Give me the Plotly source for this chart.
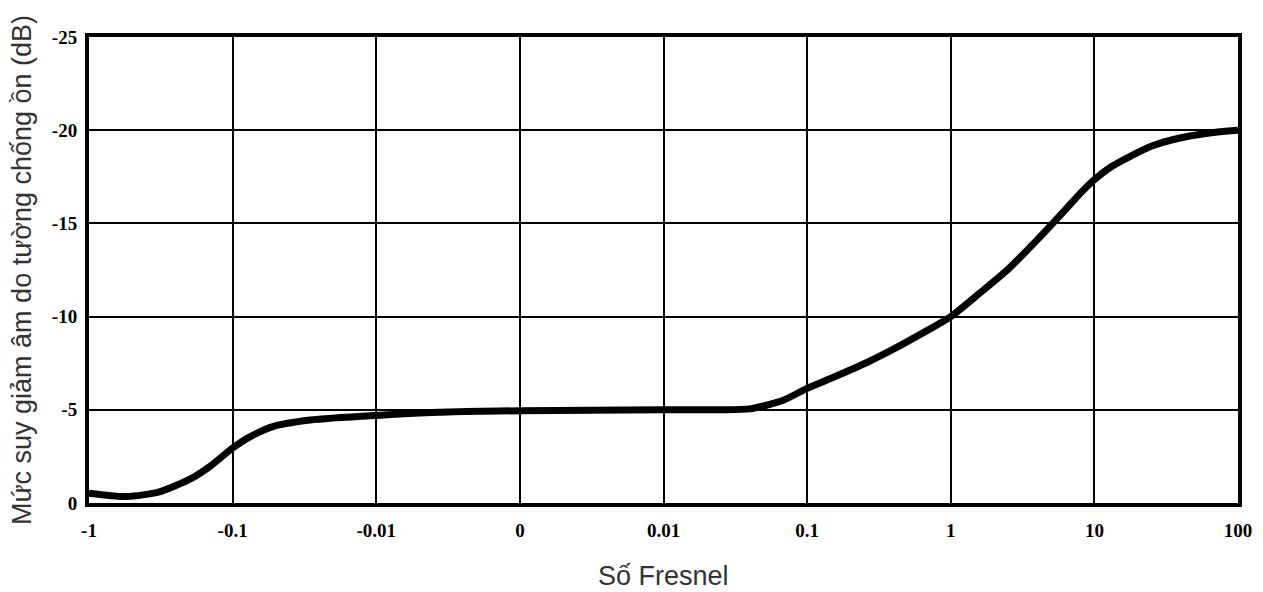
import plotly.graph_objects as go

# Tick categories on the x axis (equally spaced positions)
x_tick_labels = ["-1", "-0.1", "-0.01", "0", "0.01", "0.1", "1", "10", "100"]
y_tick_vals = [0, -5, -10, -15, -20, -25]
y_tick_labels = ["0", "-5", "-10", "-15", "-20", "-25"]

# Curve: position along the tick index scale and level in dB
curve_pos = [0.0, 0.26, 0.49, 0.72, 0.84, 1.0, 1.12, 1.28, 1.54, 2.0, 2.5, 3.0,
             4.0, 4.4, 4.6, 4.83, 5.0, 5.2, 5.42, 5.6, 5.8, 6.0,
             6.2, 6.4, 6.6, 6.8, 6.9, 7.0, 7.12, 7.25, 7.4, 7.55, 7.8, 8.0]
curve_db = [-0.53, -0.35, -0.6, -1.35, -1.95, -2.95, -3.55, -4.1, -4.45, -4.7, -4.88, -4.95,
            -5.0, -5.0, -5.05, -5.5, -6.15, -6.8, -7.55, -8.25, -9.1, -10.0,
            -11.25, -12.55, -14.1, -15.75, -16.6, -17.35, -18.05, -18.6, -19.15, -19.5, -19.85, -20.0]

fig = go.Figure()
fig.add_trace(go.Scatter(
    x=curve_pos, y=curve_db, mode="lines",
    line=dict(color="black", width=7, shape="spline", smoothing=0.7),
    showlegend=False, hoverinfo="skip",
))

tick_font = dict(family="Liberation Serif", size=19, color="black")
title_font = dict(family="Liberation Sans", size=27, color="#333333")

fig.update_layout(
    width=1255, height=584,
    margin=dict(l=81, r=25, t=29, b=89, autoexpand=False),
    paper_bgcolor="white", plot_bgcolor="white",
    xaxis=dict(
        range=[0, 8], tickmode="array",
        tickvals=list(range(len(x_tick_labels))), ticktext=["<b>%s</b>" % t for t in x_tick_labels],
        showgrid=True, gridcolor="black", gridwidth=2,
        showline=True, linecolor="black", linewidth=4, mirror=True,
        zeroline=False, ticks="", tickfont=tick_font, ticklabelstandoff=7, automargin=False,
    ),
    yaxis=dict(
        range=[0, -25], tickmode="array",
        tickvals=y_tick_vals, ticktext=["<b>%s</b>" % t for t in y_tick_labels],
        showgrid=True, gridcolor="black", gridwidth=2,
        showline=True, linecolor="black", linewidth=4, mirror=True,
        zeroline=False, ticks="", tickfont=tick_font, ticklabelstandoff=4, automargin=False,
    ),
    annotations=[
        dict(text="Số Fresnel", xref="paper", yref="paper", x=0.5, y=0,
             xanchor="center", yanchor="middle", yshift=-73, showarrow=False, font=title_font),
        dict(text="Mức suy giảm âm do tường chống ồn (dB)", xref="paper", yref="paper", x=0, y=0.5,
             xanchor="center", yanchor="middle", xshift=-67, textangle=-90, showarrow=False, font=title_font),
    ],
)

fig.write_html("out.html")
